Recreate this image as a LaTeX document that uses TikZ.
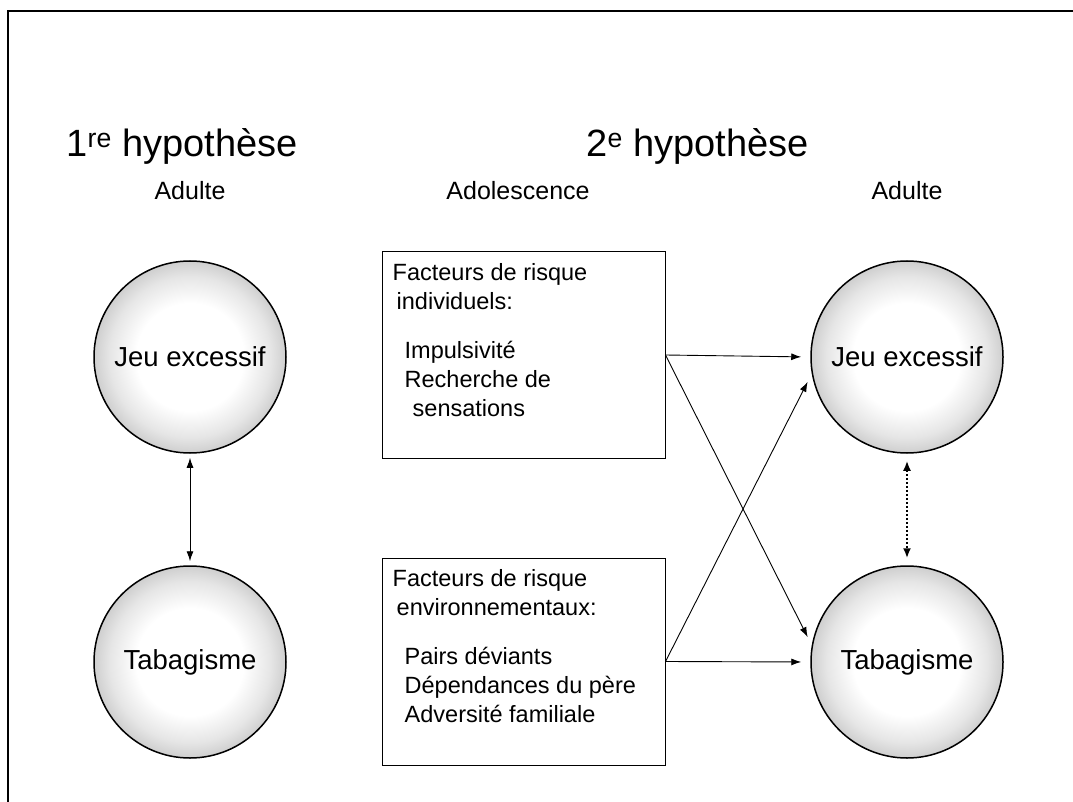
\documentclass[tikz,border=0pt]{standalone}
\usepackage{fontspec}
\setmainfont{Liberation Sans}
\usetikzlibrary{arrows.meta,positioning}

% grey ring towards the rim of each circle
\pgfdeclareradialshading{ringshade}{\pgfpoint{0bp}{0bp}}{color(0bp)=(white); color(14bp)=(white); color(21bp)=(gray!20); color(25bp)=(gray!38); color(50bp)=(gray!38)}

\begin{document}
\begin{tikzpicture}[x=1pt,y=-1pt,
    disc/.style={circle, draw, line width=1.5pt, minimum size=192pt, inner sep=0pt,
        shade, shading=ringshade, font=\fontsize{27.5}{30}\selectfont},
    riskbox/.style={draw, line width=1pt, minimum width=283pt, minimum height=207pt, inner sep=0pt},
    risktext/.style={anchor=north west, align=left, inner sep=0pt, font=\fontsize{23.5}{29}\selectfont},
    heading/.style={anchor=base west, font=\fontsize{38}{42}\selectfont},
    stage/.style={anchor=base, font=\fontsize{25}{28}\selectfont},
    link/.style={-{Latex[length=10pt,width=7pt]}, line width=0.9pt}]
    \useasboundingbox (0,0) rectangle (1073,802);

    % frame
    \draw[line width=2pt] (8,802) -- (8,11) -- (1073,11);

    % titles
    \node[heading] (hypA) at (63,157) {1\textsuperscript{re} hypothèse};
    \node[heading] (hypB) at (583,157) {2\textsuperscript{e} hypothèse};
    \node[stage] (adultA) at (190,200) {Adulte};
    \node[stage] (ado) at (518,200) {Adolescence};
    \node[stage] (adultB) at (907,200) {Adulte};

    % first hypothesis
    \node[disc] (jeuA) at (190,357) {Jeu excessif};
    \node[disc] (tabA) at (190,662) {Tabagisme};
    \draw[{Latex[length=10pt,width=7pt]}-{Latex[length=10pt,width=7pt]}, line width=0.9pt,
        shorten <=4pt, shorten >=4pt] (jeuA.south) -- (tabA.north);

    % second hypothesis: risk factors
    \node[riskbox] (facInd) at (523.5,355) {};
    \node[risktext] (facIndTxt) at ([xshift=11pt,yshift=-12pt]facInd.north west)
        {Facteurs de risque\\
         \hspace{4pt}individuels:\\[20pt]
         \hspace{12pt}Impulsivité\\
         \hspace{12pt}Recherche de\\
         \hspace{20pt}sensations};
    \node[riskbox] (facEnv) at (523.5,661.5) {};
    \node[risktext] (facEnvTxt) at ([xshift=11pt,yshift=-12pt]facEnv.north west)
        {Facteurs de risque\\
         \hspace{4pt}environnementaux:\\[20pt]
         \hspace{12pt}Pairs déviants\\
         \hspace{12pt}Dépendances du père\\
         \hspace{12pt}Adversité familiale};

    % second hypothesis: adult outcomes
    \node[disc] (jeuB) at (907,357) {Jeu excessif};
    \node[disc] (tabB) at (907,662) {Tabagisme};

    \draw[link, shorten >=9pt] (facInd.east) -- (jeuB.west);
    \draw[link, shorten >=9pt] (facInd.east) -- (tabB.170);
    \draw[link, shorten >=9pt] (facEnv.east) -- (tabB.west);
    \draw[link, shorten >=9pt] (facEnv.east) -- (jeuB.190);
    \draw[{Latex[length=10pt,width=8pt]}-{Latex[length=10pt,width=8pt]}, line width=2pt, dotted,
        shorten <=7pt, shorten >=7pt] (jeuB.south) -- (tabB.north);
\end{tikzpicture}
\end{document}
